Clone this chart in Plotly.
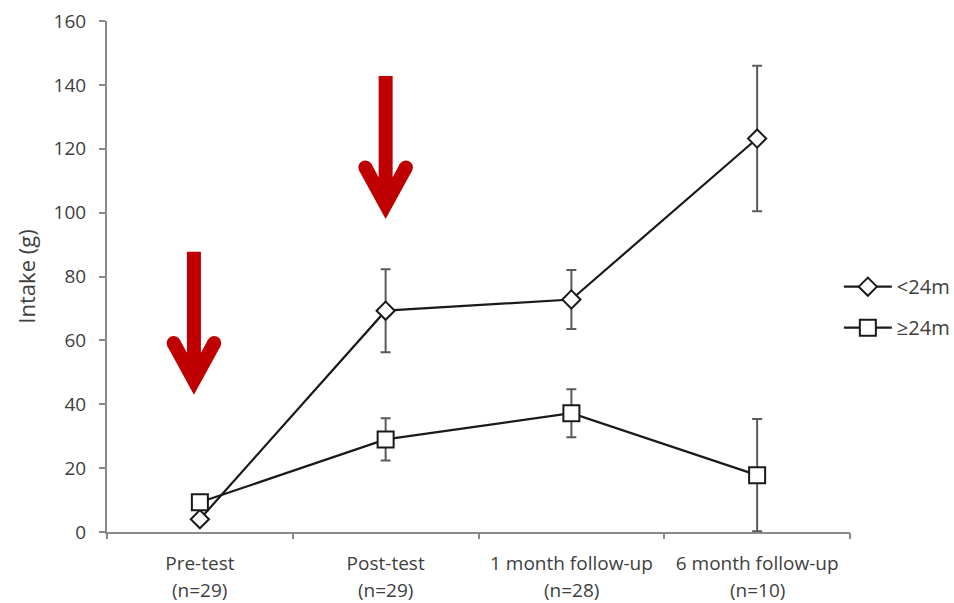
import plotly.graph_objects as go

# Time points (first line of each axis label) and group sizes (second line)
timepoints = ["Pre-test", "Post-test", "1 month follow-up", "6 month follow-up"]
group_sizes = ["(n=29)", "(n=29)", "(n=28)", "(n=10)"]

# Mean intake (g) and error half-widths per group
under24_mean = [4, 69.3, 72.8, 123.2]
under24_err = [0, 13.0, 9.2, 22.8]
over24_mean = [9.3, 29.0, 37.2, 17.8]
over24_err = [0, 6.6, 7.5, 17.6]

# Sessions marked with an intervention arrow: (category index, x shift, tip value)
arrow_marks = [(0, -0.032, 43.0), (1, 0.0, 98.0)]

LINE = "#1a1a1a"
ERR = "#5a5a5a"
AXIS = "#8a8a8a"
TEXT = "#404040"
RED = "#c00000"
FONT = "Open Sans"

x_idx = list(range(len(timepoints)))

fig = go.Figure()

fig.add_trace(go.Scatter(
    x=x_idx, y=under24_mean, name="<24m", legendgroup="a",
    mode="lines+markers",
    line=dict(color=LINE, width=2.2),
    marker=dict(symbol="diamond", size=14, color="white",
                line=dict(color=LINE, width=2)),
    error_y=dict(type="data", array=under24_err, visible=True,
                 color=ERR, thickness=2, width=5),
))
fig.add_trace(go.Scatter(
    x=x_idx, y=over24_mean, name="≥24m", legendgroup="b",
    mode="lines+markers",
    line=dict(color=LINE, width=2.2),
    marker=dict(symbol="square", size=16, color="white",
                line=dict(color=LINE, width=2)),
    error_y=dict(type="data", array=over24_err, visible=True,
                 color=ERR, thickness=2, width=5),
))

# Down arrows: shaft + chevron head drawn in pixel units around the tip
head = ("M -7,143 L -7,41.8 L -14.1,54.9 L -26.4,48.2 L 0,0 "
        "L 26.4,48.2 L 14.1,54.9 L 7,41.8 L 7,143 Z")
for cat, shift, tip in arrow_marks:
    anchor = dict(xref="x", yref="y", xsizemode="pixel", ysizemode="pixel",
                  xanchor=cat + shift, yanchor=tip)
    fig.add_shape(type="path", path=head, fillcolor=RED,
                  line=dict(width=0), layer="above", **anchor)
    for cx in (-20.3, 20.3):
        fig.add_shape(type="circle", x0=cx - 7, x1=cx + 7, y0=51.6 - 7, y1=51.6 + 7,
                      fillcolor=RED, line=dict(width=0), layer="above", **anchor)

# Second line of each category label
for i, n in enumerate(group_sizes):
    fig.add_annotation(x=i, y=0, xref="x", yref="paper", text=n,
                       showarrow=False, yshift=-58, yanchor="middle",
                       font=dict(family=FONT, size=19, color=TEXT))

fig.update_layout(
    width=954, height=603,
    margin=dict(l=107, r=104, t=21, b=71, autoexpand=False),
    paper_bgcolor="white", plot_bgcolor="white",
    font=dict(family=FONT, size=19, color=TEXT),
    showlegend=True,
    legend=dict(x=0.985, xanchor="left", y=0.44, yanchor="middle",
                itemwidth=48, tracegroupgap=12,
                font=dict(family=FONT, size=20, color=TEXT),
                bgcolor="rgba(0,0,0,0)"),
)
fig.update_xaxes(
    type="linear", range=[-0.5, 3.5],
    tickmode="array", tickvals=x_idx, ticktext=timepoints,
    showline=True, linecolor=AXIS, linewidth=2,
    ticks="", showgrid=False, zeroline=False,
    ticklabelstandoff=13,
    tickfont=dict(family=FONT, size=19, color=TEXT),
)
# boundary tick marks between categories
fig.update_layout(xaxis2=dict(
    overlaying="x", anchor="y", side="bottom", range=[-0.5, 3.5],
    tickmode="array", tickvals=[-0.5, 0.5, 1.5, 2.5, 3.5], ticktext=[""] * 5,
    ticks="outside", ticklen=6, tickwidth=2, tickcolor=AXIS,
    showline=False, showgrid=False, zeroline=False,
))
fig.add_trace(go.Scatter(x=[], y=[], xaxis="x2", showlegend=False))

fig.update_yaxes(
    range=[0, 160], tickvals=[0, 20, 40, 60, 80, 100, 120, 140, 160],
    showline=True, linecolor=AXIS, linewidth=2,
    ticks="outside", ticklen=6, tickwidth=2, tickcolor=AXIS,
    showgrid=False, zeroline=False,
    ticklabelstandoff=9,
    tickfont=dict(family=FONT, size=19, color=TEXT),
    title=dict(text="Intake (g)", standoff=12,
               font=dict(family=FONT, size=22, color=TEXT)),
)

fig.write_html("out.html")
